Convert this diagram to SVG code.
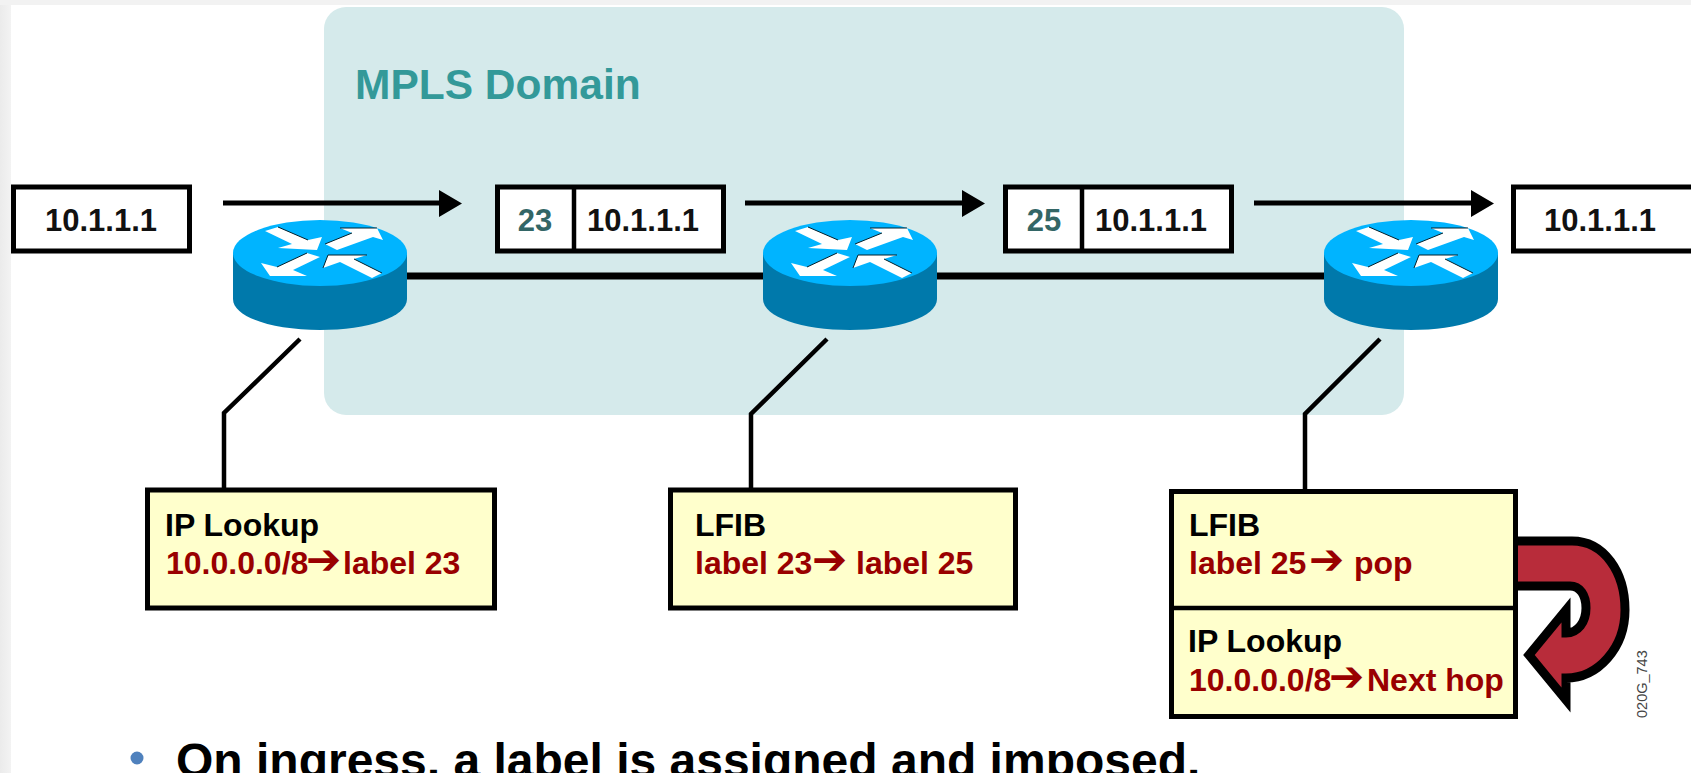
<svg xmlns="http://www.w3.org/2000/svg" width="1691" height="773" viewBox="0 0 1691 773">
<style>
text{font-family:"Liberation Sans",Arial,sans-serif;font-weight:bold}
.pk{fill:#fff;stroke:#000;stroke-width:5}
.note{fill:#ffffcc;stroke:#000;stroke-width:5}
.t{font-size:31px;fill:#111;text-anchor:middle}
.n{font-size:31px;fill:#336666;text-anchor:middle}
.h{font-size:32px;fill:#000}
.r{font-size:32px;fill:#990000}
.a{font-family:"DejaVu Sans",sans-serif;font-size:42px}
.ln{fill:none;stroke:#000}
</style>
<defs>
<linearGradient id="lg" x1="0" x2="1" y1="0" y2="0"><stop offset="0" stop-color="#ebebeb"/><stop offset="1" stop-color="#f3f3f3"/></linearGradient>
<g id="router">
<path d="M-87,0V46C-87,64 -48,77 0,77S87,64 87,46V0Z" fill="#0079ab"/>
<ellipse cx="0" cy="0" rx="87" ry="33" fill="#00b4ff"/>
<path d="M-55,-22L-42,-26L-12,-13L2,-16L-3,-3L-42,-5L-28,-9Z" fill="#fff"/>
<path d="M5,-9L32,-20L20,-25H57L63,-13L53,-16L17,-3Z" fill="#fff"/>
<path d="M-59,10L-43,14L-13,0L0,4L-27,17L-13,23H-50Z" fill="#fff"/>
<path d="M3,15L8,2H47L34,6L62,20L52,25L20,9Z" fill="#fff"/>
<path d="M-42,-26L-12,-13M5,-9L32,-20M20,-25H57M-43,14L-13,0M3,15L8,2H47M34,6L62,20" fill="none" stroke="#00202c" stroke-width="1"/>
</g>
</defs>
<rect width="1691" height="773" fill="#fff"/>
<rect x="0" y="0" width="11" height="773" fill="url(#lg)"/>
<rect x="0" y="0" width="1691" height="5" fill="#f2f2f2"/>
<rect id="domain" x="324" y="7" width="1080" height="408" rx="22" fill="#d5eaeb"/>
<text x="355" y="99" style="font-size:42.500px;fill:#339999">MPLS Domain</text>
<g id="connectors">
<path class="ln" stroke-width="7" d="M400,276H1330"/>
<g class="ln" stroke-width="4.500"><path d="M300,339L224,413V489"/><path d="M827,339L751,414V489"/><path d="M1380,339L1305,414V489"/></g>
<g class="ln" stroke-width="5"><path d="M223,203H442"/><path d="M745,203H965"/><path d="M1254,203H1475"/></g>
<path d="M439,190L462,203.500L439,217Z M962,190L985,203.500L962,217Z M1471,190L1494,203.500L1471,217Z"/>
</g>
<g id="src"><rect class="pk" x="13.500" y="187" width="176" height="64"/><text class="t" x="101" y="231">10.1.1.1</text></g>
<g id="pkt1"><rect class="pk" x="497.500" y="187" width="226" height="64"/><path class="ln" stroke-width="4.500" d="M574,187V251"/><text class="n" x="535" y="231">23</text><text class="t" x="643" y="231">10.1.1.1</text></g>
<g id="pkt2"><rect class="pk" x="1005.500" y="187" width="226" height="64"/><path class="ln" stroke-width="4.500" d="M1082,187V251"/><text class="n" x="1044" y="231">25</text><text class="t" x="1151" y="231">10.1.1.1</text></g>
<g id="dst"><rect class="pk" x="1513.500" y="187" width="185" height="64"/><text class="t" x="1600" y="231">10.1.1.1</text></g>
<use id="r1" href="#router" x="320" y="253"/>
<use id="r2" href="#router" x="850" y="253"/>
<use id="r3" href="#router" x="1411" y="253"/>
<g id="note1"><rect class="note" x="147.500" y="490" width="347" height="118"/><text class="h" x="165" y="536">IP Lookup</text><text class="r" x="166" y="574">10.0.0.0/8<tspan class="a" x="306">➔</tspan><tspan x="343">label 23</tspan></text></g>
<g id="note2"><rect class="note" x="670.500" y="490" width="345" height="118"/><text class="h" x="695" y="536">LFIB</text><text class="r" x="695" y="574">label 23<tspan class="a" x="812">➔</tspan><tspan x="856">label 25</tspan></text></g>
<g id="arrow"><path d="M1512,541H1572C1604,541 1625,572 1625,610C1625,648 1598,678 1566,678V700L1529,655L1566,610V633C1578,633 1586,622 1586,608C1586,595 1580,586 1570,586H1512Z" fill="#b82c3a" stroke="#000" stroke-width="9"/></g>
<g id="note3"><rect class="note" x="1171.500" y="491.500" width="344" height="225"/><path class="ln" stroke-width="4.500" d="M1171,608H1516"/><text class="h" x="1189" y="536">LFIB</text><text class="r" x="1189" y="574">label 25<tspan class="a" x="1309">➔</tspan><tspan x="1354">pop</tspan></text><text class="h" x="1188" y="652">IP Lookup</text><text class="r" x="1189" y="691">10.0.0.0/8<tspan class="a" x="1329">➔</tspan><tspan x="1367">Next hop</tspan></text></g>
<text transform="translate(1647,718) rotate(-90)" style="font-size:14.500px;font-weight:normal;fill:#444">020G_743</text>
<circle cx="137" cy="758" r="6.500" fill="#4f81bd"/>
<text x="176" y="777" style="font-size:48px;fill:#000">On ingress, a label is assigned and imposed.</text>
</svg>
